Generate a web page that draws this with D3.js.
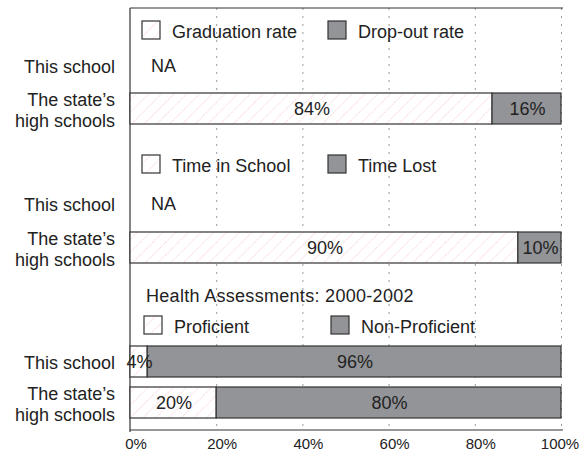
<!DOCTYPE html>
<html><head><meta charset="utf-8">
<script src="https://cdn.jsdelivr.net/npm/d3@7"></script>
<style>
body{margin:0;background:#fff}
text{font-family:"Liberation Sans",Arial,Helvetica,sans-serif;fill:#222}
</style>
</head><body><svg id="c" width="580" height="453"></svg>
<script>
// ---------- data ----------
const sectionKeys = ["grad", "time", "health"];
const legendPositive = ["Graduation rate", "Time in School", "Proficient"];
const legendNegative = ["Drop-out rate", "Time Lost", "Non-Proficient"];
const thisSchoolPositive = [null, null, 4];     // null = NA
const thisSchoolNegative = [null, null, 96];
const statePositive = [84, 90, 20];
const stateNegative = [16, 10, 80];
const rowLabelThis = ["This school"];
const rowLabelState = ["The state\u2019s", "high schools"];
const healthTitle = "Health Assessments: 2000-2002";
const xTicks = [0, 20, 40, 60, 80, 100];
const xTickLabels = ["0%", "20%", "40%", "60%", "80%", "100%"];

(function () {
// ---------- layout ----------
const W = 580;
const plotLeft = 130, plotRight = 561, plotTop = 8, plotBottom = 430;
const barH = 31, FS = 18;
const rowCenters = d3.scaleOrdinal()
  .domain(["leg-grad","this-grad","state-grad","leg-time","this-time","state-time","title-health","leg-health","this-health","state-health"])
  .range([30, 66, 108.5, 164, 204, 247.5, 296, 325, 361.5, 402.5]);

const x = d3.scaleLinear().domain([0, 100]).range([plotLeft, plotRight]);
const GRAY = "#929497", STROKE = "#333";

const svg = d3.select("#c");
const defs = svg.append("defs");
const pat = defs.append("pattern").attr("id","hatch").attr("patternUnits","userSpaceOnUse")
  .attr("width", 9).attr("height", 9).attr("patternTransform","rotate(45)");
pat.append("rect").attr("width",9).attr("height",9).attr("fill","#fff");
pat.append("line").attr("x1",0).attr("y1",0).attr("x2",0).attr("y2",9)
  .attr("stroke","#f4a9bd").attr("stroke-width",1).attr("stroke-dasharray","1.2 1.2");

// gridlines
svg.append("g").selectAll("line").data(xTicks.filter(d => d > 0)).join("line")
  .attr("x1", d => x(d) + 0.5).attr("x2", d => x(d) + 0.5)
  .attr("y1", plotTop).attr("y2", plotBottom)
  .attr("stroke", "#999").attr("stroke-width", 1).attr("stroke-dasharray", "2 6");

// frame lines: left, top, bottom
svg.append("line").attr("x1", plotLeft).attr("x2", plotLeft).attr("y1", plotTop).attr("y2", plotBottom + 2)
  .attr("stroke", STROKE).attr("stroke-width", 1.2);
svg.append("line").attr("x1", plotLeft).attr("x2", plotRight + 2).attr("y1", plotTop).attr("y2", plotTop)
  .attr("stroke", STROKE).attr("stroke-width", 1.2);
svg.append("line").attr("x1", plotLeft).attr("x2", plotRight + 2).attr("y1", plotBottom).attr("y2", plotBottom)
  .attr("stroke", STROKE).attr("stroke-width", 1.2);

// x tick labels
svg.append("g").selectAll("text").data(xTicks).join("text")
  .attr("x", d => Math.min(x(d) + 6, W - 20)).attr("y", 449)
  .attr("text-anchor", "middle").attr("font-size", 15)
  .text((d, i) => xTickLabels[i]);

function legend(key, i, x1, x2) {
  const cy = rowCenters("leg-" + key);
  const items = [
    {label: legendPositive[i], fill: "url(#hatch)", xs: x1},
    {label: legendNegative[i], fill: GRAY, xs: x2}
  ];
  const g = svg.append("g");
  g.selectAll("rect").data(items).join("rect")
    .attr("x", d => d.xs).attr("y", cy - 9).attr("width", 18).attr("height", 18)
    .attr("fill", d => d.fill).attr("stroke", STROKE).attr("stroke-width", 1.2);
  g.selectAll("text").data(items).join("text")
    .attr("x", d => d.xs + 30).attr("y", cy + 8).attr("font-size", FS)
    .text(d => d.label);
}

function barRow(rowKey, pos, neg) {
  const cy = rowCenters(rowKey);
  const g = svg.append("g");
  if (pos == null) {
    g.append("text").attr("x", 151).attr("y", cy + 6).attr("font-size", FS).text("NA");
    return;
  }
  const segs = [
    {v0: 0, v1: pos, fill: "url(#hatch)", label: pos + "%"},
    {v0: pos, v1: pos + neg, fill: GRAY, label: neg + "%"}
  ];
  g.selectAll("rect").data(segs).join("rect")
    .attr("x", d => x(d.v0)).attr("width", d => x(d.v1) - x(d.v0))
    .attr("y", cy - barH / 2).attr("height", barH)
    .attr("fill", d => d.fill).attr("stroke", STROKE).attr("stroke-width", 1.2);
  g.selectAll("text").data(segs).join("text")
    .attr("x", d => (x(d.v0) + x(d.v1)) / 2 + 1).attr("y", cy + 6)
    .attr("text-anchor", "middle").attr("font-size", FS)
    .text(d => d.label);
}

function rowLabels(key) {
  const g = svg.append("g").attr("text-anchor", "end").attr("font-size", FS);
  const cyT = rowCenters("this-" + key);
  g.append("text").attr("x", 115).attr("y", cyT + 7).text(rowLabelThis[0]);
  const cyS = rowCenters("state-" + key);
  g.selectAll("text.s").data(rowLabelState).join("text").attr("class", "s")
    .attr("x", 115).attr("y", (d, i) => cyS - 3 + i * 21).text(d => d);
}

sectionKeys.forEach((key, i) => {
  if (key === "health") {
    svg.append("text").attr("x", 146).attr("y", rowCenters("title-health") + 6)
      .attr("font-size", FS).attr("letter-spacing", 0.3).text(healthTitle);
    legend(key, i, 144, 331);
  } else {
    legend(key, i, 142, 328);
  }
  barRow("this-" + key, thisSchoolPositive[i], thisSchoolNegative[i]);
  barRow("state-" + key, statePositive[i], stateNegative[i]);
  rowLabels(key);
});
})();
</script>
</body></html>
